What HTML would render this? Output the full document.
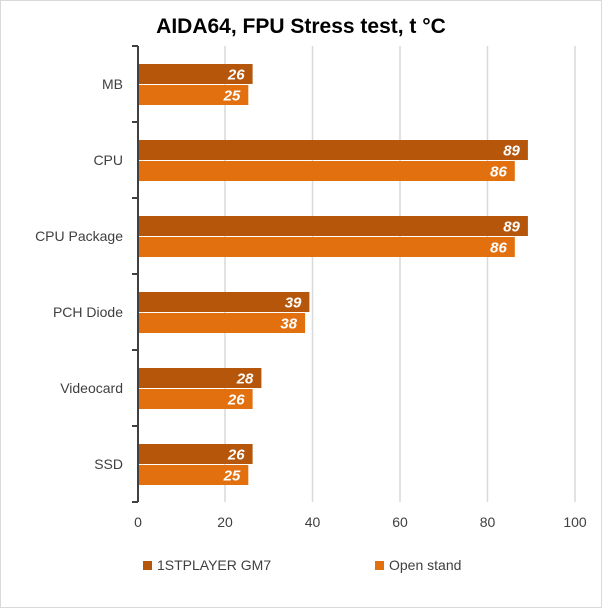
<!DOCTYPE html>
<html><head><meta charset="utf-8"><style>
body{margin:0;background:#fff}
svg text{font-family:"Liberation Sans",sans-serif}
.v{font-size:15px;font-weight:bold;font-style:italic;fill:#fff;text-anchor:end}
</style></head><body>
<svg width="602" height="608" xmlns="http://www.w3.org/2000/svg">
<rect x="0.5" y="0.5" width="601" height="607" fill="#fff" stroke="#d9d9d9"/>
<text x="301" y="33" text-anchor="middle" font-size="21" font-weight="bold" fill="#000">AIDA64, FPU Stress test, t °C</text>
<g stroke="#d9d9d9" stroke-width="1.5">
<line x1="225" y1="46" x2="225" y2="502"/><line x1="312.5" y1="46" x2="312.5" y2="502"/>
<line x1="400" y1="46" x2="400" y2="502"/><line x1="487.5" y1="46" x2="487.5" y2="502"/>
<line x1="575" y1="46" x2="575" y2="502"/>
</g>
<g>
<rect x="139" y="64" width="113.6" height="20" fill="#B5560B"/><text class="v" x="244.6" y="79.5">26</text>
<rect x="139" y="85" width="109.3" height="20" fill="#E2700F"/><text class="v" x="240.3" y="100.5">25</text>
<rect x="139" y="140" width="388.9" height="20" fill="#B5560B"/><text class="v" x="519.9" y="155.5">89</text>
<rect x="139" y="161" width="375.8" height="20" fill="#E2700F"/><text class="v" x="506.8" y="176.5">86</text>
<rect x="139" y="216" width="388.9" height="20" fill="#B5560B"/><text class="v" x="519.9" y="231.5">89</text>
<rect x="139" y="237" width="375.8" height="20" fill="#E2700F"/><text class="v" x="506.8" y="252.5">86</text>
<rect x="139" y="292" width="170.4" height="20" fill="#B5560B"/><text class="v" x="301.4" y="307.5">39</text>
<rect x="139" y="313" width="166.1" height="20" fill="#E2700F"/><text class="v" x="297.1" y="328.5">38</text>
<rect x="139" y="368" width="122.4" height="20" fill="#B5560B"/><text class="v" x="253.4" y="383.5">28</text>
<rect x="139" y="389" width="113.6" height="20" fill="#E2700F"/><text class="v" x="244.6" y="404.5">26</text>
<rect x="139" y="444" width="113.6" height="20" fill="#B5560B"/><text class="v" x="244.6" y="459.5">26</text>
<rect x="139" y="465" width="109.3" height="20" fill="#E2700F"/><text class="v" x="240.3" y="480.5">25</text>
</g>
<g stroke="#404040" stroke-width="2">
<line x1="138" y1="46" x2="138" y2="502"/>
<line x1="132" y1="46" x2="138" y2="46"/><line x1="132" y1="122" x2="138" y2="122"/>
<line x1="132" y1="198" x2="138" y2="198"/><line x1="132" y1="274" x2="138" y2="274"/>
<line x1="132" y1="350" x2="138" y2="350"/><line x1="132" y1="426" x2="138" y2="426"/>
<line x1="132" y1="502" x2="138" y2="502"/>
</g>
<g font-size="14" fill="#404040" text-anchor="end">
<text x="123" y="89">MB</text><text x="123" y="165">CPU</text><text x="123" y="241">CPU Package</text>
<text x="123" y="317">PCH Diode</text><text x="123" y="393">Videocard</text><text x="123" y="469">SSD</text>
</g>
<g font-size="14" fill="#404040" text-anchor="middle">
<text x="138" y="527">0</text><text x="225" y="527">20</text><text x="312.5" y="527">40</text>
<text x="400" y="527">60</text><text x="487.5" y="527">80</text><text x="575" y="527">100</text>
</g>
<rect x="143" y="561" width="9" height="9" fill="#B5560B"/>
<text x="157" y="570" font-size="14" fill="#404040">1STPLAYER GM7</text>
<rect x="375" y="561" width="9" height="9" fill="#E2700F"/>
<text x="389" y="570" font-size="14" fill="#404040">Open stand</text>
</svg>
</body></html>
